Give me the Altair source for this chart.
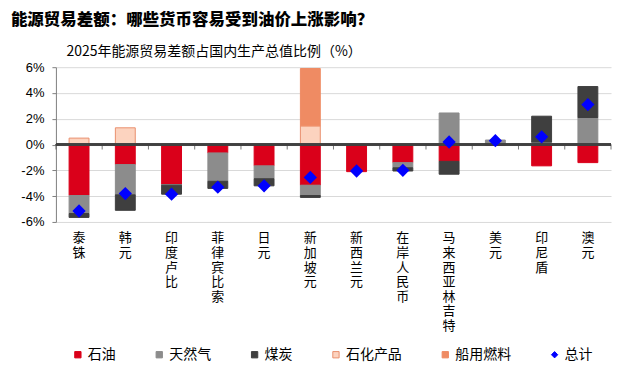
import altair as alt
import pandas as pd

categories = ["泰铢", "韩元", "印度卢比", "菲律宾比索", "日元", "新加坡元",
              "新西兰元", "在岸人民币", "马来西亚林吉特", "美元", "印尼盾", "澳元"]
oil = [-3.95, -1.55, -3.1, -0.65, -1.65, -3.15, -2.1, -1.4, -1.3, -0.05, -1.65, -1.4]
gas = [-1.4, -2.35, -0.05, -2.2, -1.0, -0.8, 0, -0.4, 2.45, 0.35, 0.2, 2.1]
coal = [-0.3, -1.2, -0.7, -0.55, -0.55, -0.15, 0, -0.25, -1.0, 0, 2.0, 2.4]
petrochem = [0.5, 1.3, 0, 0, 0, 1.45, 0, 0, 0, 0, 0, 0]
bunker = [0, 0, 0, 0, 0, 4.45, 0, 0, 0, 0, 0, 0]
total = [-5.15, -3.8, -3.85, -3.3, -3.2, -2.55, -2.05, -2.0, 0.2, 0.3, 0.6, 3.1]

series_names = ["石油", "天然气", "煤炭", "石化产品", "船用燃料"]
total_name = "总计"
fill_colors = ["#DA001A", "#8C8C8C", "#3F3F3F", "#FCD3BF", "#EF8B63", "#0000FF"]
stroke_colors = ["#DA001A", "#8C8C8C", "#3F3F3F", "#E9906E", "#EF8B63", "#0000FF"]
shapes = ["square", "square", "square", "square", "square", "diamond"]
y_ticks = [-6, -4, -2, 0, 2, 4, 6]

rows = []
for i, c in enumerate(categories):
    for j, vals in enumerate([oil, gas, coal, petrochem, bunker]):
        if vals[i] != 0:
            rows.append({"cat": c, "series": series_names[j], "value": vals[i], "order": j})
bars_df = pd.DataFrame(rows)
tot_df = pd.DataFrame({"cat": categories, "series": [total_name] * len(categories), "value": total})
tick_df = pd.DataFrame({"cat": categories, "value": [0] * len(categories)})
last_df = pd.DataFrame({"cat": categories[-1:], "value": [0]})

domain = series_names + [total_name]
color_scale = alt.Scale(domain=domain, range=fill_colors)
stroke_scale = alt.Scale(domain=domain, range=stroke_colors)
shape_scale = alt.Scale(domain=domain, range=shapes)
x_scale = alt.Scale(domain=categories, paddingInner=0, paddingOuter=0)

CJK = "Noto Sans CJK SC"

legend = alt.Legend(
    title=None, orient="none", direction="horizontal", columns=6,
    legendX=15, legendY=281,
    symbolSize=40, symbolStrokeWidth=1, symbolOpacity=1,
    labelFont=CJK, labelFontSize=14, labelColor="#000", labelOffset=3,
    columnPadding=36.5,
)

x_axis = alt.Axis(title=None, labelAngle=0, labelExpr="split(datum.label, '')",
                  labelFont=CJK, labelFontSize=13, labelLineHeight=14.6, labelPadding=10,
                  labelBaseline="top", domain=False, ticks=False, grid=False,
                  labelColor="#000", labelOverlap=False)

y_axis = alt.Axis(values=y_ticks, labelExpr="datum.value + '%'",
                  title="2025年能源贸易差额占国内生产总值比例（%）",
                  titleAngle=0, titleAlign="left", titleBaseline="middle",
                  titleX=10, titleY=-16, titleFont=CJK, titleFontSize=14,
                  titleFontWeight="normal", titleColor="#000",
                  labelFont="Liberation Sans", labelFontSize=13, labelColor="#000",
                  tickSize=4, labelPadding=8, gridColor="#d9d9d9",
                  domainColor="#7f7f7f", tickColor="#7f7f7f")

y_scale = alt.Scale(domain=[-6, 6], nice=False)

X = lambda **kw: alt.X("cat:N", scale=x_scale, axis=x_axis, **kw)

bars = alt.Chart(bars_df).mark_bar(width={"band": 0.43}, strokeWidth=1).encode(
    x=X(),
    y=alt.Y("value:Q", stack="zero", scale=y_scale, axis=y_axis),
    color=alt.Color("series:N", scale=color_scale, legend=legend),
    stroke=alt.Stroke("series:N", scale=stroke_scale, legend=legend),
    order=alt.Order("order:Q"),
)

zero = alt.Chart(tick_df).mark_rule(color="#404040", strokeWidth=1.5).encode(
    y=alt.Y("value:Q", scale=y_scale, axis=y_axis),
)

ticks = alt.Chart(tick_df).mark_tick(orient="vertical", color="#404040", size=5,
                                     thickness=1, yOffset=2.5).encode(
    x=X(bandPosition=0),
    y=alt.Y("value:Q", scale=y_scale, axis=y_axis),
)
ticks_end = alt.Chart(last_df).mark_tick(orient="vertical", color="#404040", size=5,
                                         thickness=1, yOffset=2.5).encode(
    x=X(bandPosition=1),
    y=alt.Y("value:Q", scale=y_scale, axis=y_axis),
)

points = alt.Chart(tot_df).mark_point(filled=True, size=110, opacity=1).encode(
    x=X(),
    y=alt.Y("value:Q", scale=y_scale, axis=y_axis),
    color=alt.Color("series:N", scale=color_scale, legend=legend),
    stroke=alt.Stroke("series:N", scale=stroke_scale, legend=legend),
    shape=alt.Shape("series:N", scale=shape_scale, legend=legend),
)

chart = alt.layer(bars, zero, ticks, ticks_end, points).properties(
    width=556, height=155, background="white",
    padding={"left": 2, "top": 3, "right": 5, "bottom": 5},
    title=alt.Title("能源贸易差额：哪些货币容易受到油价上涨影响？", anchor="start",
                    font=CJK, fontSize=16.5, fontWeight=900, color="#000",
                    dx=-10, offset=16),
).configure_view(stroke=None)

chart.save("out.html", embed_options={"renderer": "svg", "actions": False})
